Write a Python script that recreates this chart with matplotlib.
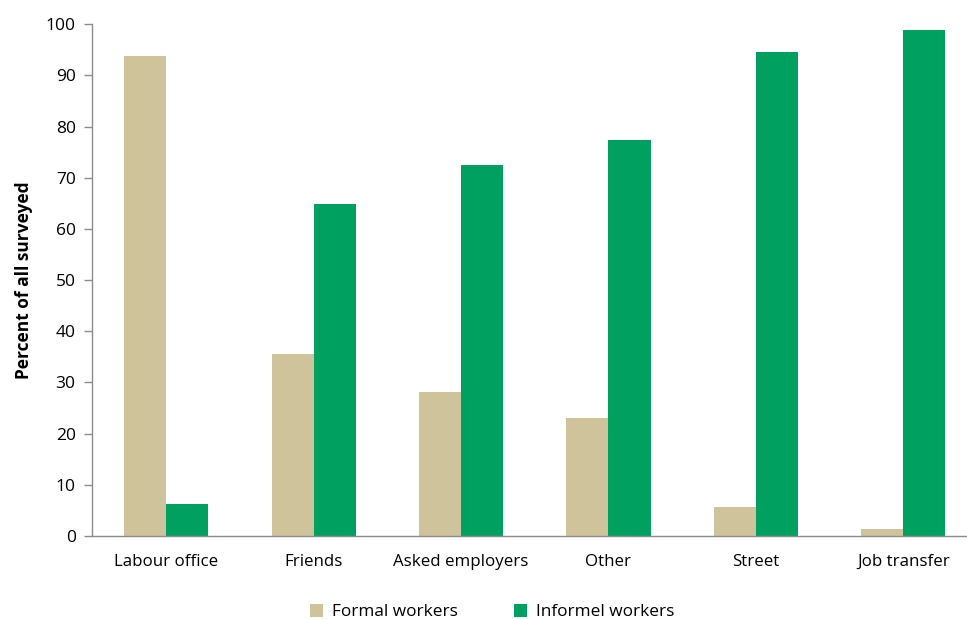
import matplotlib
matplotlib.use("Agg")
import matplotlib.pyplot as plt
import numpy as np

categories = ["Labour office", "Friends", "Asked employers", "Other", "Street", "Job transfer"]
formal = [93.8, 35.6, 28.1, 23.1, 5.7, 1.4]
informal = [6.3, 64.8, 72.5, 77.3, 94.5, 98.9]
series_names = ["Formal workers", "Informel workers"]

FORMAL_COLOR = "#CFC39B"
INFORMAL_COLOR = "#00A160"
AXIS_GREY = "#8C8C8C"
FONT = ["Open Sans", "DejaVu Sans"]

plt.rcParams["font.family"] = FONT

fig = plt.figure(figsize=(9.67, 6.19), dpi=100)
ax = fig.add_axes([0.0955, 0.134, 0.915, 0.827])

x = np.arange(len(categories))
w = 0.285
ax.bar(x - w / 2, formal, w, color=FORMAL_COLOR, label=series_names[0])
ax.bar(x + w / 2, informal, w, color=INFORMAL_COLOR, label=series_names[1])

ax.set_xlim(-0.5, len(categories) - 0.5)
ax.set_ylim(0, 100)
ax.set_yticks(range(0, 101, 10))
ax.set_xticks(x)
ax.set_xticklabels(categories, fontsize=12.2)
ax.tick_params(axis="y", labelsize=12.5, length=6, width=1, color=AXIS_GREY, pad=6)
ax.tick_params(axis="x", length=0, pad=13)

for side in ("top", "right"):
    ax.spines[side].set_visible(False)
for side in ("left", "bottom"):
    ax.spines[side].set_color(AXIS_GREY)
    ax.spines[side].set_linewidth(1)

ax.set_ylabel("Percent of all surveyed", fontsize=12.5, fontweight="bold", labelpad=9)

fig.legend(loc="lower center", bbox_to_anchor=(0.509, -0.027), ncol=2, frameon=False,
           fontsize=12.4, handlelength=0.75, handleheight=0.75, columnspacing=3.3,
           handletextpad=0.5)

fig.savefig("out.png", dpi=100)
plt.close(fig)
